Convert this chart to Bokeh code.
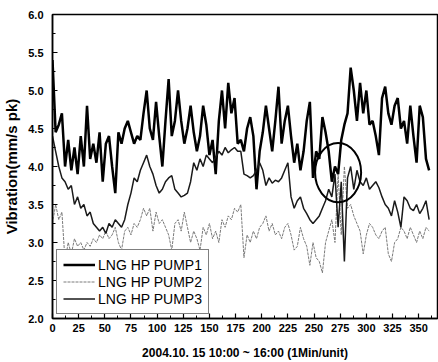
from bokeh.plotting import figure
from bokeh.models import Range1d, SingleIntervalTicker, Legend, LegendItem, PrintfTickFormatter
from bokeh.embed import file_html
from bokeh.resources import INLINE

minutes = list(range(0, 361, 3))

pump1 = [5.4, 4.45, 4.55, 4.7, 4.0, 4.35, 3.95, 4.25, 3.9, 4.4,
         4.0, 4.8, 4.1, 4.3, 4.05, 4.45, 3.8, 4.3, 4.4, 4.0,
         3.65, 4.45, 4.3, 4.5, 4.6, 4.45, 4.3, 4.4, 4.35, 4.7,
         5.0, 4.5, 4.35, 4.85, 4.4, 4.0, 4.6, 5.15, 4.4, 4.6,
         5.0, 4.6, 4.3, 4.5, 4.8, 4.45, 4.2, 4.4, 4.8, 4.55,
         4.15, 4.35, 3.9, 4.6, 5.0, 4.5, 5.1, 4.7, 4.9, 4.3,
         4.35, 4.2, 4.5, 4.65, 4.4, 3.7, 4.2, 4.45, 4.8, 4.5,
         4.2, 4.6, 5.05, 4.3, 4.6, 4.8, 4.4, 4.05, 4.3, 3.95,
         4.2, 4.6, 4.85, 3.85, 4.2, 4.1, 4.65, 4.45, 4.2, 3.8,
         4.0, 3.9, 4.35, 4.55, 4.7, 5.3, 5.0, 4.6, 5.1, 4.7,
         5.0, 4.55, 4.6, 4.4, 4.15, 4.9, 5.05, 4.7, 4.55, 4.8,
         4.9, 4.5, 4.6, 4.3, 4.8, 4.4, 4.05, 4.8, 4.65, 4.1,
         3.95]

pump2 = [3.25, 3.5, 3.3, 3.4, 2.75, 3.0, 2.85, 3.05, 2.95, 3.0,
         2.9, 3.0, 2.95, 3.05, 3.0, 3.1, 3.05, 3.15, 3.05, 3.1,
         3.2, 3.0, 2.9, 3.15, 3.2, 3.1, 3.25, 3.2, 3.3, 3.45,
         3.35, 3.45, 3.15, 3.4, 3.25, 3.3, 3.2, 3.1, 2.9, 3.25,
         3.3, 3.15, 3.4, 3.2, 3.0, 3.15, 3.05, 2.9, 3.2, 3.1,
         3.25, 3.05, 3.15, 3.0, 3.3, 3.2, 3.35, 3.3, 3.45, 3.4,
         3.5, 2.8, 3.1, 3.0, 3.15, 3.05, 3.2, 3.25, 3.35, 3.15,
         3.25, 3.1, 3.15, 3.05, 3.2, 3.25, 3.1, 2.9, 2.95, 3.2,
         3.05, 2.95, 2.7, 3.0, 2.8, 2.75, 2.6, 3.0, 3.15, 3.3,
         3.0, 3.9, 3.1, 4.0, 3.45, 3.5, 3.35, 3.25, 3.15, 2.85,
         3.1, 3.25, 3.2, 3.1, 3.05, 3.15, 3.2, 2.85, 2.75, 3.0,
         3.05, 3.2, 3.15, 3.05, 3.2, 3.1, 3.0, 3.15, 3.05, 3.2,
         3.15]

pump3 = [4.4, 4.2, 4.0, 3.85, 3.8, 3.7, 3.75, 3.5, 3.6, 3.45,
         3.5, 3.35, 3.4, 3.25, 3.2, 3.15, 3.2, 3.12, 3.25, 3.2,
         3.3, 3.25, 3.2, 3.3, 3.5, 3.65, 3.85, 3.8, 3.95, 4.05,
         4.15, 4.0, 3.9, 3.75, 3.65, 3.7, 3.8, 3.85, 3.88, 3.7,
         3.65, 3.6, 3.62, 3.65, 3.8, 4.05, 3.95, 4.1, 4.0, 4.15,
         4.1, 4.05, 4.12, 4.2, 4.15, 4.25, 4.18, 4.22, 4.25, 4.2,
         4.2, 3.9, 3.88, 3.85, 3.88, 3.95, 4.05, 3.95, 3.75, 3.85,
         3.78, 3.82, 3.8, 3.85, 3.95, 4.05, 3.6, 3.45, 3.55, 3.6,
         3.45, 3.38, 3.3, 3.25, 3.3, 3.35, 3.45, 3.55, 3.7, 3.6,
         3.9, 3.2, 3.8, 2.75, 3.85, 4.0, 3.7, 3.95, 3.8, 3.75,
         3.85, 3.7, 3.75, 3.8, 3.72, 3.6, 3.5, 3.45, 3.35, 3.55,
         3.4, 3.2, 3.6, 3.55, 3.45, 3.42, 3.5, 3.38, 3.45, 3.55,
         3.3]

series_names = ["LNG HP PUMP1", "LNG HP PUMP2", "LNG HP PUMP3"]
x_title = "2004.10. 15 10:00 ~ 16:00 (1Min/unit)"
y_title = "Vibration(mm/s pk)"
x_ticks_interval = 25
y_ticks_interval = 0.5

FONT = "Liberation Sans"

p = figure(width=438, height=362, output_backend="svg", toolbar_location=None,
           x_range=Range1d(0, 368), y_range=Range1d(2.0, 6.0),
           min_border_left=52, min_border_right=1, min_border_top=14,
           min_border_bottom=42)
p.background_fill_color = "white"
p.border_fill_color = "white"
p.grid.visible = False
p.outline_line_color = "black"
p.outline_line_width = 1.5

r1 = p.line(minutes, pump1, line_color="black", line_width=2.5)
r2 = p.line(minutes, pump2, line_color="#7a7a7a", line_width=1, line_dash="3 1")
r3 = p.line(minutes, pump3, line_color="#1a1a1a", line_width=1.5)

# highlight circle
p.ellipse(x=[273], y=[3.92], width=44, height=0.78, fill_color=None,
          line_color="black", line_width=2)

p.xaxis.ticker = SingleIntervalTicker(interval=x_ticks_interval, num_minor_ticks=2)
p.yaxis.ticker = SingleIntervalTicker(interval=y_ticks_interval, num_minor_ticks=2)
p.yaxis.formatter = PrintfTickFormatter(format="%.1f")

for ax in (p.xaxis[0], p.yaxis[0]):
    ax.axis_line_width = 1.5
    ax.axis_line_color = "black"
    ax.major_tick_in = 5
    ax.major_tick_out = 0
    ax.minor_tick_in = 3
    ax.minor_tick_out = 0
    ax.major_tick_line_width = 1.2
    ax.minor_tick_line_width = 1
    ax.major_label_text_font = FONT
    ax.major_label_text_font_style = "bold"
    ax.major_label_text_font_size = "11px"
    ax.major_label_text_color = "black"
    ax.axis_label_text_font = FONT
    ax.axis_label_text_font_style = "bold"
    ax.axis_label_text_color = "black"

p.xaxis.axis_label = x_title
p.xaxis.axis_label_text_font_size = "12px"
p.xaxis.major_label_standoff = 5
p.xaxis.axis_label_standoff = 11
p.yaxis.axis_label = y_title
p.yaxis.axis_label_text_font_size = "15px"
p.yaxis.major_label_standoff = 9
p.yaxis.axis_label_standoff = 5

legend = Legend(items=[LegendItem(label=series_names[0], renderers=[r1]),
                       LegendItem(label=series_names[1], renderers=[r2]),
                       LegendItem(label=series_names[2], renderers=[r3])],
                location=(4, 4))
legend.label_text_font = FONT
legend.label_text_font_size = "14px"
legend.label_text_color = "black"
legend.glyph_width = 32
legend.glyph_height = 17
legend.label_height = 17
legend.label_standoff = 3
legend.spacing = 0
legend.padding = 6
legend.margin = 0
legend.border_line_color = "black"
legend.border_line_width = 1.5
legend.background_fill_color = "white"
legend.background_fill_alpha = 1.0
p.add_layout(legend, "center")

open("out.html", "w").write(file_html(p, INLINE))
